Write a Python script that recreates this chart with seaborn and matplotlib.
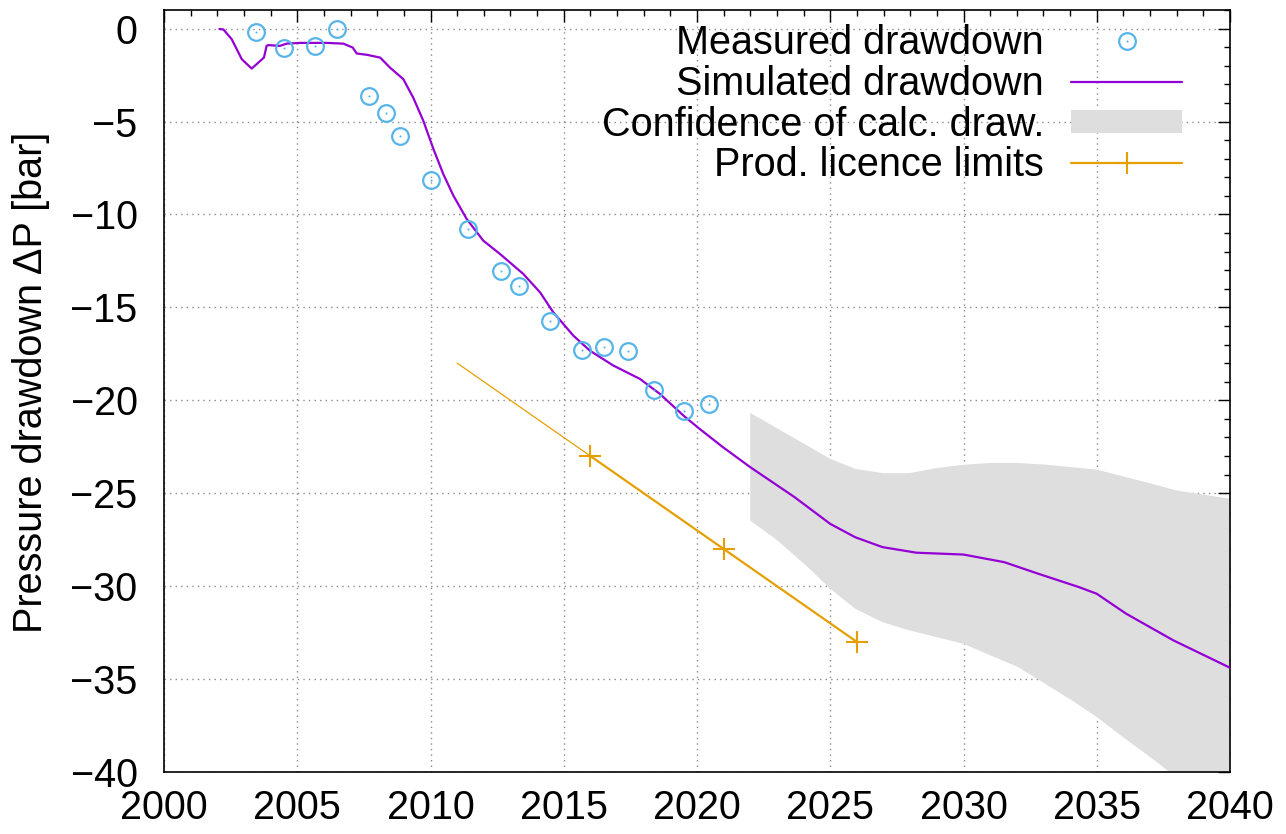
import matplotlib
matplotlib.use("Agg")
import numpy as np
import matplotlib.pyplot as plt
import seaborn as sns
from matplotlib.ticker import MultipleLocator
from matplotlib.legend_handler import HandlerTuple

# ---------------- data ----------------
meas_year = [2003.44, 2004.50, 2005.67, 2006.48, 2007.68, 2008.33, 2008.86, 2010.02,
             2011.42, 2012.63, 2013.32, 2014.50, 2015.67, 2016.50, 2017.41, 2018.40,
             2019.52, 2020.44]
meas_dp = [-0.18, -1.05, -0.93, 0.0, -3.63, -4.52, -5.77, -8.17,
           -10.80, -13.03, -13.87, -15.73, -17.29, -17.11, -17.34, -19.46,
           -20.57, -20.18]

sim_year = [2002.08, 2002.23, 2002.54, 2002.92, 2003.29, 2003.54, 2003.75, 2003.85,
            2003.91, 2004.35, 2004.60, 2005.10, 2006.11, 2006.73, 2007.08, 2007.23,
            2007.61, 2008.11, 2008.48, 2008.98, 2009.35, 2009.73, 2010.11, 2010.48,
            2010.86, 2011.36, 2011.98, 2012.61, 2013.48, 2014.11, 2014.61, 2015.36,
            2015.98, 2016.86, 2017.86, 2018.61, 2019.49, 2020.10, 2020.98, 2022.00,
            2023.65, 2025.00, 2025.94, 2026.96, 2028.23, 2030.00, 2031.53, 2032.80,
            2034.33, 2035.00, 2036.10, 2037.88, 2040.00]
sim_dp = [-0.02, -0.05, -0.57, -1.65, -2.15, -1.83, -1.56, -0.93,
          -0.89, -0.93, -0.81, -0.77, -0.77, -0.81, -1.02, -1.34,
          -1.41, -1.56, -2.10, -2.72, -3.71, -4.96, -6.48, -7.83,
          -8.99, -10.25, -11.41, -12.13, -13.20, -14.19, -15.27, -16.52,
          -17.33, -18.13, -18.85, -19.66, -20.82, -21.54, -22.53, -23.60,
          -25.20, -26.65, -27.37, -27.90, -28.20, -28.30, -28.71, -29.33,
          -30.05, -30.41, -31.48, -32.92, -34.39]

band_up_year = [2022.0, 2025.0, 2025.94, 2026.96, 2027.97, 2028.99, 2029.99, 2031.02,
                2032.03, 2033.06, 2035.0, 2036.6, 2038.0, 2040.0]
band_up_dp = [-20.68, -23.15, -23.69, -23.92, -23.92, -23.65, -23.47, -23.37,
              -23.37, -23.46, -23.73, -24.32, -24.85, -25.30]
band_lo_year = [2022.0, 2023.02, 2024.16, 2025.0, 2025.94, 2026.96, 2027.97, 2030.0,
                2031.02, 2032.04, 2033.06, 2034.07, 2035.0, 2035.98, 2037.25, 2040.0]
band_lo_dp = [-26.47, -27.54, -28.98, -30.14, -31.22, -31.94, -32.38, -33.10,
              -33.73, -34.35, -35.25, -36.15, -37.04, -38.12, -39.46, -42.60]

lic_year = [2011, 2016, 2021, 2026]
lic_dp = [-18, -23, -28, -33]

labels = ["Measured drawdown", "Simulated drawdown",
          "Confidence of calc. draw.", "Prod. licence limits"]
xticks = [2000, 2005, 2010, 2015, 2020, 2025, 2030, 2035, 2040]
yticks = [0, -5, -10, -15, -20, -25, -30, -35, -40]

# ---------------- style ----------------
sns.set_theme(style="white")
plt.rcParams['font.family'] = ['Liberation Sans', 'DejaVu Sans']
plt.rcParams['axes.unicode_minus'] = True
plt.rcParams['text.color'] = 'black'
plt.rcParams['axes.labelcolor'] = 'black'

C_MEAS = '#56B4E9'
C_SIM = '#9400D3'
C_LIC = '#E69F00'
C_BAND = '#dedede'
FS = 28.5

fig = plt.figure(figsize=(12.86, 8.34), dpi=100)
W, H = 1286, 834
L, R, T, B = 164, 1230, 10, 772
ax = fig.add_axes([L / W, 1 - B / H, (R - L) / W, (B - T) / H])

# confidence band
bx = np.r_[band_up_year, band_lo_year[::-1]]
by = np.r_[band_up_dp, band_lo_dp[::-1]]
band = ax.fill(bx, by, color=C_BAND, lw=0, zorder=1)[0]

# simulated
sns.lineplot(x=sim_year, y=sim_dp, color=C_SIM, lw=1.6, estimator=None, sort=False,
             legend=False, ax=ax, zorder=3)
sim_line = ax.lines[-1]

# licence limits
sns.lineplot(x=lic_year[:2], y=lic_dp[:2], color=C_LIC, lw=0.9, estimator=None,
             sort=False, legend=False, ax=ax, zorder=3)
sns.lineplot(x=lic_year[1:], y=lic_dp[1:], color=C_LIC, lw=1.6, marker='+', ms=16.5,
             mew=1.5, mec=C_LIC, estimator=None, sort=False, legend=False, ax=ax, zorder=4)
lic_line = ax.lines[-1]

# measured
sns.lineplot(x=meas_year, y=meas_dp, linestyle='', marker='o', ms=12, mfc='none',
             mec=C_MEAS, mew=1.6, estimator=None, sort=False, legend=False, ax=ax, zorder=5)
meas_line = ax.lines[-1]
sns.lineplot(x=meas_year, y=meas_dp, linestyle='', marker='.', ms=3, color=C_MEAS,
             mec=C_MEAS, mew=0, estimator=None, sort=False, legend=False, ax=ax, zorder=5)
meas_dot = ax.lines[-1]

# axes
ax.set_xlim(2000, 2040)
ax.set_ylim(-40, 1)
ax.set_xticks(xticks)
ax.set_yticks(yticks)
ax.xaxis.set_minor_locator(MultipleLocator(1))
ax.yaxis.set_minor_locator(MultipleLocator(1))
ax.tick_params(which='both', direction='in', top=True, right=True, color='black',
               width=1.0, labelsize=FS, labelcolor='black')
ax.tick_params(which='major', length=8.6)
ax.tick_params(which='minor', length=4.3)
ax.tick_params(axis='x', pad=12)
ax.tick_params(axis='y', pad=19)
ax.grid(True, which='major', ls=(0, (1, 3)), color='#8a8a8a', lw=1.0)
ax.set_axisbelow(True)
for s in ax.spines.values():
    s.set_color('black')
    s.set_linewidth(1.2)
    s.set_visible(True)

ax.set_xlabel('')
ax.set_ylabel('Pressure drawdown ΔP [bar]', fontsize=FS, color='black')
ax.yaxis.set_label_coords((50 - L) / (R - L), 0.512)

leg = ax.legend([(meas_line, meas_dot), sim_line, band, lic_line], labels,
                handler_map={tuple: HandlerTuple(ndivide=1)},
                loc='upper right', bbox_to_anchor=((1182 - L) / (R - L), (B - 24) / (B - T)),
                frameon=False, fontsize=FS, markerfirst=False, numpoints=1,
                handlelength=2.8, handletextpad=0.68, labelspacing=0.07,
                borderpad=0, borderaxespad=0, handleheight=0.55, labelcolor='black')

fig.savefig('out.png', dpi=100)
